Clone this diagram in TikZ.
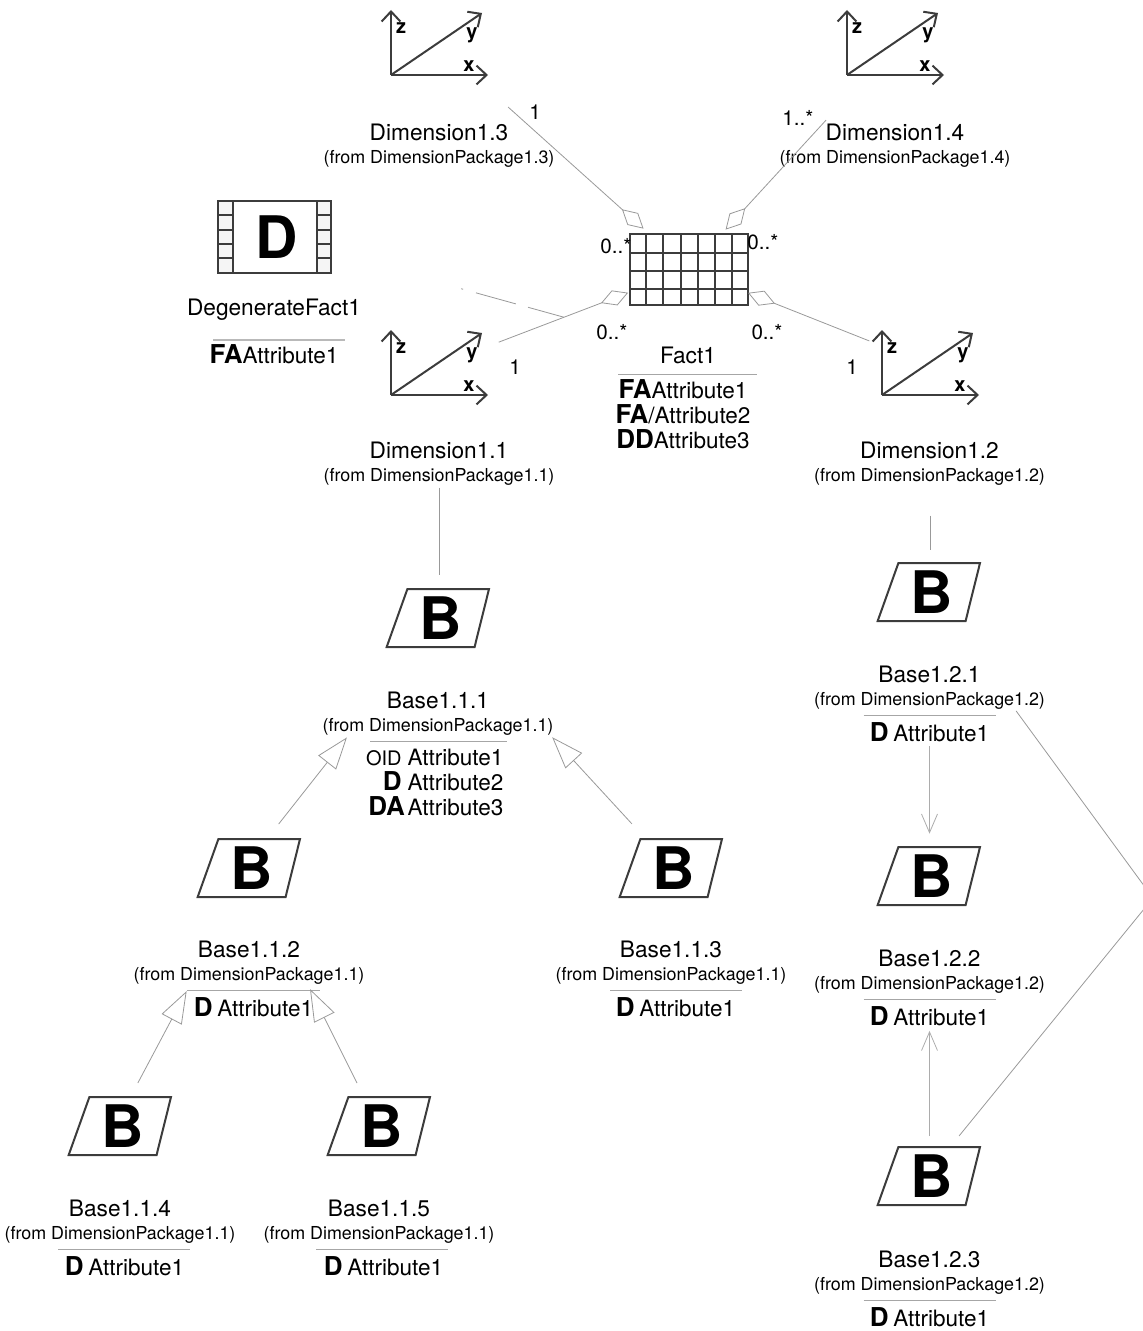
\documentclass[tikz,border=0pt]{standalone}
\usepackage{fontspec}
\setmainfont{TeX Gyre Heros}
\usepackage{tikz}
\usetikzlibrary{shapes,arrows.meta,positioning}

\definecolor{iconline}{HTML}{3C3C3C}
\definecolor{linkline}{HTML}{999999}
\newcommand{\stereo}[1]{{\fontsize{19.5}{19.5}\selectfont\bfseries #1}}

\begin{document}
\begin{tikzpicture}[
    x=0.75pt,
    y=-0.75pt,
    iconbox/.style={draw=iconline, line width=1.5pt, line join=miter, inner sep=0pt, outer sep=0pt},
    baseicon/.style={trapezium, iconbox, trapezium left angle=73, trapezium right angle=102, trapezium stretches=true, minimum width=77pt, minimum height=43.5pt, font=\fontsize{44}{44}\selectfont\bfseries},
    factgrid/.style={draw=iconline, line width=1.7pt},
    clsname/.style={anchor=south, inner sep=0pt, outer sep=0pt, text height=13pt, text depth=0pt, font=\fontsize{17}{20}\selectfont},
    clsfrom/.style={inner sep=0pt, outer sep=0pt, text height=11pt, text depth=3pt, font=\fontsize{13.4}{16}\selectfont},
    attrs/.style={inner sep=0pt, outer sep=0pt, font=\fontsize{16.9}{18.75}\selectfont},
    mult/.style={inner sep=0pt, outer sep=0pt, font=\fontsize{15.5}{18}\selectfont},
    sepline/.style={draw=gray!70, line width=0.6pt},
    assoc/.style={draw=linkline, line width=0.6pt},
    aggr/.style={assoc, -{Diamond[open, length=21.75pt, width=12pt]}},
    general/.style={assoc, -{Triangle[open, length=24pt, width=17pt]}},
    navarrow/.style={draw=gray!65, line width=0.8pt, -{Straight Barb[length=14pt, width=12pt, line width=0.6pt]}},
    axesicon/.pic={
        \coordinate (-c) at (48,-30);
        \draw[iconline, line width=1.5pt, -{Straight Barb[length=7.5pt, width=14pt]}] (0,0) -- (0,-65);
        \draw[iconline, line width=1.5pt, -{Straight Barb[length=7.5pt, width=14pt]}] (0,0) -- (91,-62);
        \draw[iconline, line width=1.5pt, -{Straight Barb[length=7.5pt, width=14pt]}] (0,0) -- (97,0);
        \node[inner sep=0pt, font=\fontsize{15}{15}\selectfont\bfseries] (-z) at (10,-47) {z};
        \node[inner sep=0pt, font=\fontsize{15}{15}\selectfont\bfseries] (-y) at (81,-40) {y};
        \node[inner sep=0pt, font=\fontsize{15}{15}\selectfont\bfseries] (-x) at (78,-9) {x};
    }
]
\useasboundingbox (0,0) rectangle (1142,1331);

% Dimension icons
\pic (dim13) at (391,75) {axesicon};
\pic (dim14) at (847,75) {axesicon};
\pic (dim11) at (391,395) {axesicon};
\pic (dim12) at (882,395) {axesicon};

\node[clsname] (name13) at (439,140) {Dimension1.3};
\node[clsfrom, below=6.4pt of name13] (from13) {(from DimensionPackage1.3)};
\node[clsname] (name14) at (895,140) {Dimension1.4};
\node[clsfrom, below=6.4pt of name14] (from14) {(from DimensionPackage1.4)};
\node[clsname] (name11) at (439,458) {Dimension1.1};
\node[clsfrom, below=6.4pt of name11] (from11) {(from DimensionPackage1.1)};
\node[clsname] (name12) at (929.5,458) {Dimension1.2};
\node[clsfrom, below=6.4pt of name12] (from12) {(from DimensionPackage1.2)};

% Fact
\node[factgrid, minimum width=88.5pt, minimum height=53.25pt, inner sep=0pt, outer sep=0pt] (fact1) at (689,269.5) {};
\draw[factgrid] (646,234) -- (646,305) (663,234) -- (663,305) (681,234) -- (681,305) (698,234) -- (698,305) (715,234) -- (715,305) (732,234) -- (732,305)
    (630,253) -- (748,253) (630,271) -- (748,271) (630,289) -- (748,289);
\node[clsname] (namefact) at (688,363) {Fact1};
\draw[sepline] ([shift={(-70,11)}]namefact.south) -- ([shift={(69,11)}]namefact.south);
\node[attrs, align=center, below=12.5pt of namefact, xshift=-3.75pt] (attrfact) {\stereo{FA}Attribute1\\\stereo{FA}/Attribute2\\\stereo{DD}Attribute3};

% Degenerate fact
\node[iconbox, fill=white, minimum width=84.75pt, minimum height=54pt, font=\fontsize{44}{44}\selectfont\bfseries] (degen1) at (274.5,237) {\hspace{4pt}D};
\draw[iconline, line width=1.2pt, fill=black!4] (218,201) rectangle (233,273) (317,201) rectangle (331,273);
\draw[iconline, line width=1.2pt] (218,215) -- (233,215) (218,230) -- (233,230) (218,244) -- (233,244) (218,258) -- (233,258)
    (317,215) -- (331,215) (317,230) -- (331,230) (317,244) -- (331,244) (317,258) -- (331,258);
\node[clsname] (namedegen) at (274,315) {DegenerateFact1};
\draw[sepline, line width=0.9pt, gray!55] ([shift={(-61,25)}]namedegen.south) -- ([shift={(71,25)}]namedegen.south);
\node[attrs, below=22.5pt of namedegen] (attrdegen) {\stereo{FA}Attribute1};

% Base icons, Dimension 1.1
\node[baseicon] (base111) at (441,618) {B};
\node[clsname] (name111) at (438,708) {Base1.1.1};
\node[clsfrom, below=6.4pt of name111] (from111) {(from DimensionPackage1.1)};
\draw[sepline] ([shift={(-68,6)}]from111.south) -- ([shift={(69,6)}]from111.south);
\node[attrs, align=right, below=10.3pt of from111, xshift=-2.5pt] (attr111) {{\fontsize{15}{15}\selectfont OID}\hspace{4.5pt}Attribute1\\\stereo{D}\hspace{4.5pt}Attribute2\\\stereo{DA}\hspace{2pt}Attribute3};

\node[baseicon] (base112) at (252,868) {B};
\node[clsname] (name112) at (249,957) {Base1.1.2};
\node[clsfrom, below=6.4pt of name112] (from112) {(from DimensionPackage1.1)};
\draw[sepline] ([shift={(-62,6)}]from112.south) -- ([shift={(71,6)}]from112.south);
\node[attrs, below=10.3pt of from112, xshift=3.4pt] (attr112) {\stereo{D}\hspace{3.5pt}Attribute1};

\node[baseicon] (base113) at (674,868) {B};
\node[clsname] (name113) at (671,957) {Base1.1.3};
\node[clsfrom, below=6.4pt of name113] (from113) {(from DimensionPackage1.1)};
\draw[sepline] ([shift={(-61,6)}]from113.south) -- ([shift={(71,6)}]from113.south);
\node[attrs, below=10.3pt of from113, xshift=3.4pt] (attr113) {\stereo{D}\hspace{3.5pt}Attribute1};

\node[baseicon] (base114) at (123,1126) {B};
\node[clsname] (name114) at (120,1216) {Base1.1.4};
\node[clsfrom, below=6.4pt of name114] (from114) {(from DimensionPackage1.1)};
\draw[sepline] ([shift={(-62,6)}]from114.south) -- ([shift={(70,6)}]from114.south);
\node[attrs, below=10.3pt of from114, xshift=3.4pt] (attr114) {\stereo{D}\hspace{3.5pt}Attribute1};

\node[baseicon] (base115) at (382,1126) {B};
\node[clsname] (name115) at (379,1216) {Base1.1.5};
\node[clsfrom, below=6.4pt of name115] (from115) {(from DimensionPackage1.1)};
\draw[sepline] ([shift={(-63,6)}]from115.south) -- ([shift={(69,6)}]from115.south);
\node[attrs, below=10.3pt of from115, xshift=3.4pt] (attr115) {\stereo{D}\hspace{3.5pt}Attribute1};

% Base icons, Dimension 1.2
\node[baseicon] (base121) at (932,592) {B};
\node[clsname] (name121) at (929.5,682) {Base1.2.1};
\node[clsfrom, below=6.4pt of name121] (from121) {(from DimensionPackage1.2)};
\draw[sepline] ([shift={(-66,6)}]from121.south) -- ([shift={(66,6)}]from121.south);
\node[attrs, below=10.3pt of from121] (attr121) {\stereo{D}\hspace{3.5pt}Attribute1};

\node[baseicon] (base122) at (932,876) {B};
\node[clsname] (name122) at (929.5,966) {Base1.2.2};
\node[clsfrom, below=6.4pt of name122] (from122) {(from DimensionPackage1.2)};
\draw[sepline] ([shift={(-66,6)}]from122.south) -- ([shift={(66,6)}]from122.south);
\node[attrs, below=10.3pt of from122] (attr122) {\stereo{D}\hspace{3.5pt}Attribute1};

\node[baseicon] (base123) at (932,1176) {B};
\node[clsname] (name123) at (929.5,1267) {Base1.2.3};
\node[clsfrom, below=6.4pt of name123] (from123) {(from DimensionPackage1.2)};
\draw[sepline] ([shift={(-66,6)}]from123.south) -- ([shift={(66,6)}]from123.south);
\node[attrs, below=10.3pt of from123] (attr123) {\stereo{D}\hspace{3.5pt}Attribute1};

% Aggregation links
\draw[aggr, shorten <=69.6pt, shorten >=6pt] (dim13-c) -- (fact1);
\draw[aggr, shorten <=76.5pt, shorten >=4.5pt] (dim14-c) -- (fact1);
\draw[aggr, shorten <=48pt, shorten >=1.5pt] (dim11-c) -- (fact1);
\draw[aggr, shorten <=49pt] (dim12-c) -- (fact1);

% Degenerate fact link
\path (dim11-c) -- (fact1.center) coordinate[midway] (degenjoin);
\draw[assoc, dash pattern=on 28pt off 9.5pt on 31pt off 10pt on 1.5pt off 200pt] (degenjoin) -- (degen1);

% Hierarchy links
\draw[assoc, shorten <=92pt, shorten >=10.5pt] (dim11-c) -- (dim11-c |- base111.north);
\draw[assoc, shorten <=113pt, shorten >=9.75pt] (dim12-c) -- (dim12-c |- base121.north);
\draw[general, shorten <=42pt, shorten >=114pt] ([xshift=-6pt]base112.center) -- (base111.center);
\draw[general, shorten <=45pt, shorten >=121.5pt] ([xshift=-1.1pt]base113.center) -- ([xshift=1.1pt]base111.center);
\draw[general, shorten <=36.5pt, shorten >=104.5pt] ([xshift=-6pt]base114.center) -- (base112.center);
\draw[general, shorten <=36pt, shorten >=101.5pt] ([xshift=-2.6pt]base115.center) -- ([xshift=-1.9pt]base112.center);
\draw[navarrow, shorten <=3pt, shorten >=10pt] (attr121.south) -- (attr121.south |- base122.north);
\draw[navarrow, shorten <=8.25pt, shorten >=3.5pt] (attr122.south |- base123.north) -- (attr122.south);
\coordinate (selfbend) at (1153,898);
\draw[assoc, shorten <=38.8pt, shorten >=110.5pt] ([xshift=-4.2pt]base123.center) -- (selfbend) -- ([xshift=-2.2pt]base121.center);

% Multiplicities
\node[mult] (mult13) at (535,112) {1};
\node[mult] (mult14) at (798,118) {1..*};
\node[mult] (multfact13) at (616,246) {0..*};
\node[mult] (multfact14) at (763,242) {0..*};
\node[mult] (multfact11) at (612,332) {0..*};
\node[mult] (multfact12) at (767,332) {0..*};
\node[mult] (mult11) at (515,367) {1};
\node[mult] (mult12) at (852,367) {1};

\end{tikzpicture}
\end{document}
